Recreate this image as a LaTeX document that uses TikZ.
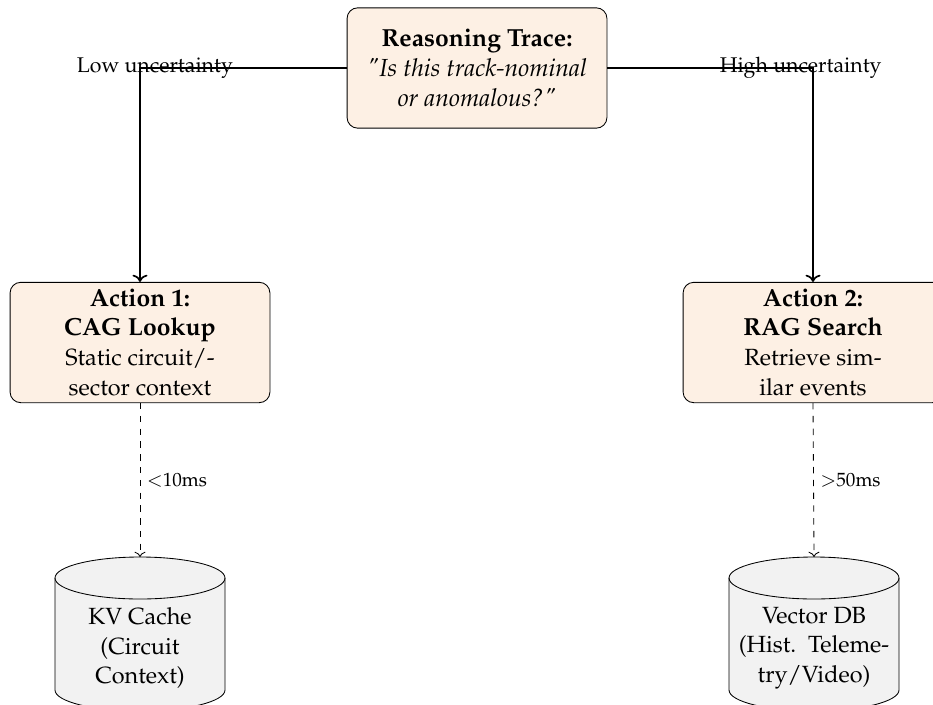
\documentclass[tikz,border=0pt]{standalone}
\usepackage[T1]{fontenc}
\usepackage{mathpazo}
\usetikzlibrary{arrows.meta}
\definecolor{actfill}{RGB}{253,240,228}
\definecolor{dbfill}{RGB}{242,242,242}
% bold headings and the italic question are set a touch larger
\newcommand\boxhead[1]{{\fontsize{11.6}{14}\selectfont\bfseries #1}}
\newcommand\boxquote[1]{{\fontsize{11.6}{14}\selectfont\itshape #1}}
\begin{document}
\begin{tikzpicture}[x=0.4695pt,y=0.4695pt,
  font=\fontsize{11}{14}\selectfont,
  box/.style={draw, fill=actfill, rounded corners=5pt, align=center,
    minimum width=122pt, minimum height=56.5pt, inner sep=2pt},
  dbtext/.style={align=center, inner sep=0pt},
  dbshape/.style={draw, fill=dbfill},
  flow/.style={->, thick},
  lookup/.style={->, dashed},
  route/.style={font=\fontsize{10}{12}\selectfont},
  lat/.style={font=\fontsize{9}{11}\selectfont, right, inner sep=3pt}]
\useasboundingbox (0,0) rectangle (933,-704);

% reasoning step and the two actions
\node[box] (rt) at (477,-68) {\boxhead{Reasoning Trace:}\\\boxquote{"Is this track-nominal}\\\boxquote{or anomalous?"}};
\node[box] (a1) at (140,-342.5) {\boxhead{Action 1:}\\\boxhead{CAG Lookup}\\Static circuit/-\\sector context};
\node[box] (a2) at (813,-342.5) {\boxhead{Action 2:}\\\boxhead{RAG Search}\\Retrieve sim-\\ilar events};

% stores, drawn as cylinders behind their labels
\draw[dbshape] (55,-578) -- (55,-690) arc (180:360:85 and 21) -- (225,-578) arc (0:180:85 and 21) -- cycle;
\draw (55,-578) arc (180:360:85 and 21);
\coordinate (kvtop) at (140,-557);
\node[dbtext] (kv) at (140,-648) {KV Cache\\(Circuit\\Context)};

\draw[dbshape] (729,-578) -- (729,-690) arc (180:360:85 and 21) -- (899,-578) arc (0:180:85 and 21) -- cycle;
\draw (729,-578) arc (180:360:85 and 21);
\coordinate (vdbtop) at (814,-557);
\node[dbtext] (vdb) at (814,-648) {Vector DB\\(Hist.\ \ Teleme-\\try/Video)};

% routing by uncertainty
\draw[flow] (rt.west) -| node[route, pos=0.464] {Low uncertainty} (a1.north);
\draw[flow] (rt.east) -| node[route, pos=0.47] {High uncertainty} (a2.north);

% retrieval calls with their latencies
\draw[lookup] (a1.south) -- node[lat] {$<$10ms} (kvtop);
\draw[lookup] (a2.south) -- node[lat] {$>$50ms} (vdbtop);
\end{tikzpicture}
\end{document}
